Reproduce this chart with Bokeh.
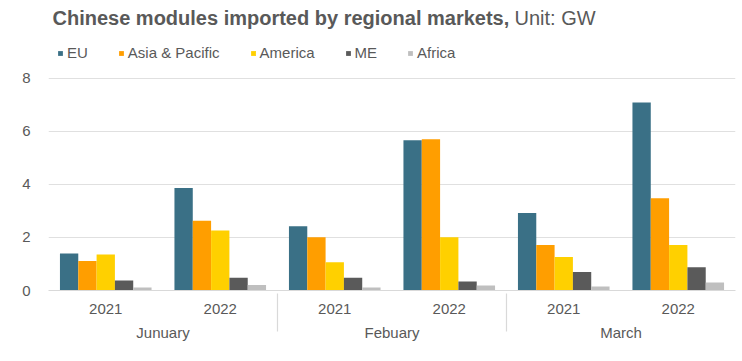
from bokeh.plotting import figure
from bokeh.models import FactorRange, Legend, LegendItem, FixedTicker, Range1d, Label
from bokeh.transform import dodge
from bokeh.embed import file_html
from bokeh.resources import INLINE

months = ["Junuary", "Febuary", "March"]
years = ["2021", "2022"]
regions = ["EU", "Asia & Pacific", "America", "ME", "Africa"]
colors = ["#3a7086", "#ff9e00", "#ffd000", "#5a5a5a", "#bfbfbf"]

# values per (month, year) in order: Jan21, Jan22, Feb21, Feb22, Mar21, Mar22
eu = [1.40, 3.87, 2.42, 5.67, 2.92, 7.09]
asia_pacific = [1.11, 2.63, 2.01, 5.71, 1.72, 3.48]
america = [1.36, 2.26, 1.07, 2.01, 1.26, 1.72]
me = [0.38, 0.48, 0.48, 0.34, 0.70, 0.88]
africa = [0.11, 0.21, 0.11, 0.19, 0.15, 0.30]
series = [eu, asia_pacific, america, me, africa]

y_ticks = [0, 2, 4, 6, 8]
title_bold = "Chinese modules imported by regional markets,"
title_rest = "Unit: GW"

factors = [(m, y) for m in months for y in years]
data = {"x": factors}
for r, vals in zip(regions, series):
    data[r] = vals

TXT = "#595959"
FONT = "Liberation Sans"
Y_END = 10.94  # leaves room at the top of the frame for title and legend

p = figure(
    x_range=FactorRange(*factors, factor_padding=0, group_padding=0, range_padding=0),
    y_range=Range1d(0, Y_END),
    width=742, height=361,
    output_backend="svg", toolbar_location=None,
    min_border_left=48, min_border_right=7, min_border_top=0, min_border_bottom=71,
    outline_line_color=None,
)

bar_w = 0.16
offsets = [-2 * bar_w, -bar_w, 0, bar_w, 2 * bar_w]
items = []
for r, c, off in zip(regions, colors, offsets):
    rend = p.vbar(x=dodge("x", off, range=p.x_range), top=r, width=bar_w,
                  source=data, fill_color=c, line_color=None)
    items.append(LegendItem(label=r, renderers=[rend]))

legend = Legend(items=items, orientation="horizontal", location=(9, 229),
                glyph_width=6, glyph_height=6, label_standoff=4, spacing=30,
                padding=0, margin=0, border_line_color=None, background_fill_alpha=0,
                label_text_font=FONT, label_text_font_size="15px", label_text_color=TXT,
                label_height=17)
p.add_layout(legend)

p.add_layout(Label(x=4, y=273, x_units="screen", y_units="screen", text=title_bold,
                   text_font=FONT, text_font_size="20px", text_font_style="bold",
                   text_color=TXT, text_baseline="middle"))
p.add_layout(Label(x=466, y=273, x_units="screen", y_units="screen", text=title_rest,
                   text_font=FONT, text_font_size="20px",
                   text_color=TXT, text_baseline="middle"))

p.yaxis.ticker = FixedTicker(ticks=y_ticks)
p.yaxis.axis_line_color = None
p.yaxis.major_tick_line_color = None
p.yaxis.minor_tick_line_color = None
p.yaxis.major_label_standoff = 12
p.yaxis.major_label_text_font = FONT
p.yaxis.major_label_text_font_size = "15px"
p.yaxis.major_label_text_color = TXT

p.xaxis.axis_line_color = "#d9d9d9"
p.xaxis.axis_line_width = 1.2
p.xaxis.major_tick_line_color = None
p.xaxis.minor_tick_line_color = None
p.xaxis.major_label_standoff = 7
p.xaxis.major_label_text_font = FONT
p.xaxis.major_label_text_font_size = "15px"
p.xaxis.major_label_text_color = TXT
p.xaxis.group_text_font = FONT
p.xaxis.group_text_font_size = "15px"
p.xaxis.group_text_color = TXT
p.xaxis.group_text_font_style = "normal"
p.xaxis.separator_line_color = "#d9d9d9"
p.xaxis.separator_line_width = 1.2

p.xgrid.grid_line_color = None
p.ygrid.grid_line_color = "#e0e0e0"
p.ygrid.grid_line_width = 1.2

open("out.html", "w").write(file_html(p, INLINE))
